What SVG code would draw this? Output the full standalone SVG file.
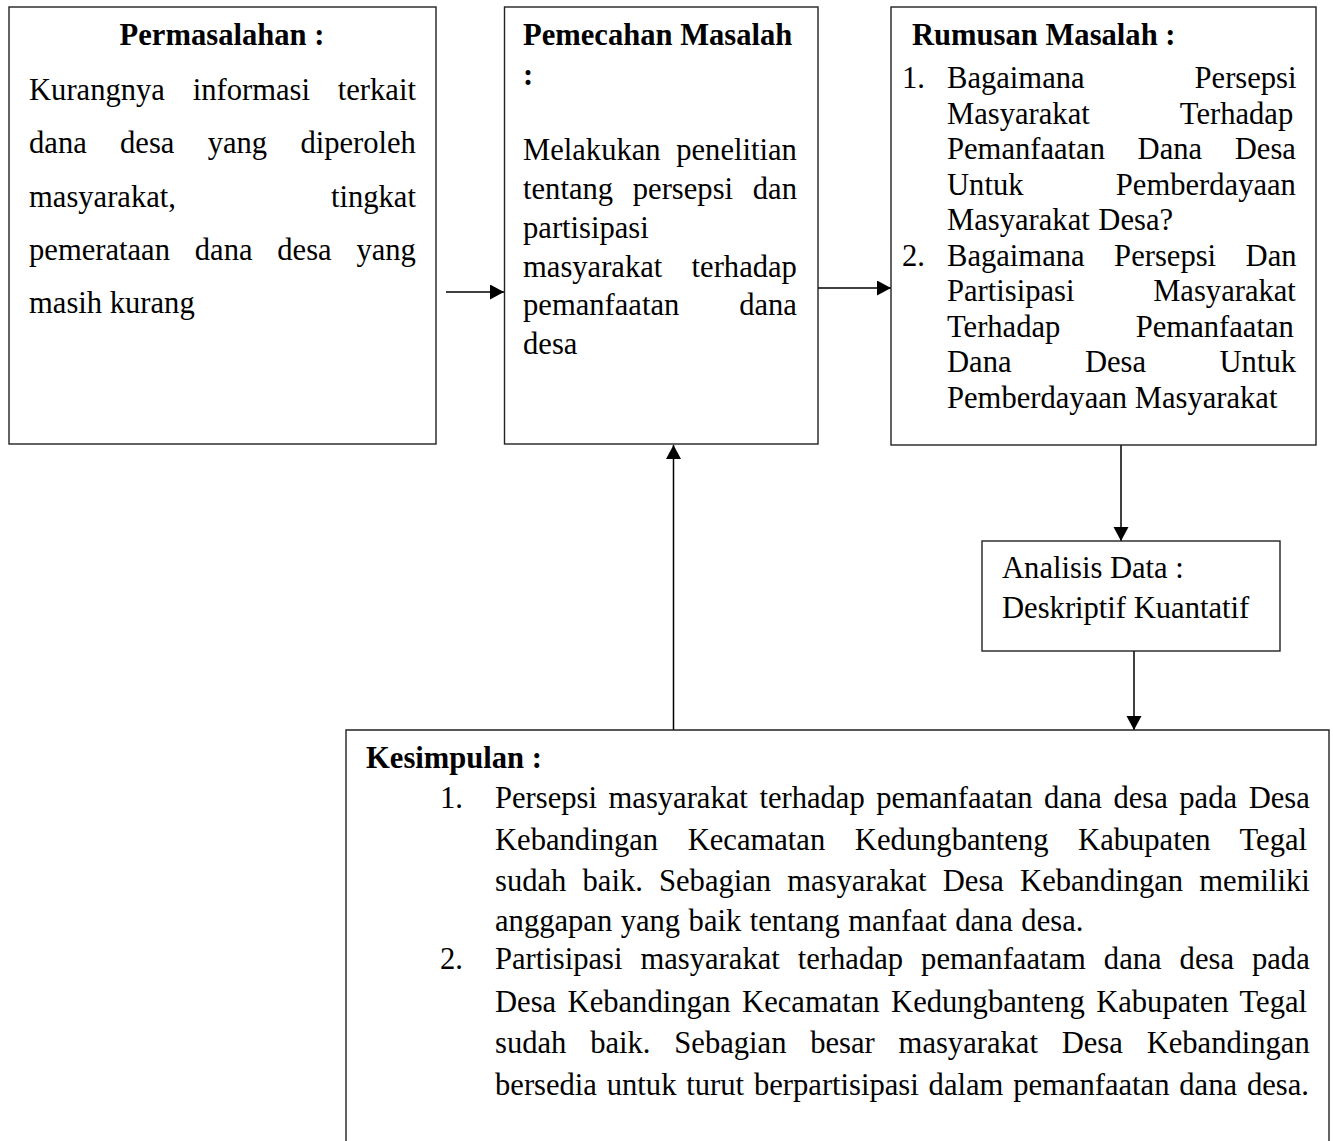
<svg xmlns="http://www.w3.org/2000/svg" width="1333" height="1141" viewBox="0 0 1333 1141">
<style>
.box{fill:#fff;stroke:#222;stroke-width:1.4}
.t{font-family:"Liberation Serif","Times New Roman",serif;font-size:30.6px;fill:#000}
.b{font-weight:bold}
.c{stroke:#000;stroke-width:1.5;fill:none}
</style>
<defs>
<marker id="ah" markerUnits="userSpaceOnUse" markerWidth="15" markerHeight="16" refX="14" refY="7.5" orient="auto">
<path d="M0,0 L14,7.5 L0,15 z" fill="#000"/>
</marker>
</defs>
<rect width="1333" height="1141" fill="#fff"/>
<g id="connectors">
<line class="c" x1="446" y1="292" x2="504" y2="292" marker-end="url(#ah)"/>
<line class="c" x1="818" y1="288" x2="891" y2="288" marker-end="url(#ah)"/>
<line class="c" x1="1121" y1="445" x2="1121" y2="541" stroke-width="2" marker-end="url(#ah)"/>
<line class="c" x1="1134" y1="651" x2="1134" y2="730" stroke="#555" stroke-width="1" marker-end="url(#ah)"/>
<line class="c" x1="673.5" y1="730" x2="673.5" y2="445" marker-end="url(#ah)"/>
</g>
<g id="permasalahan">
<rect class="box" x="9" y="7" width="427" height="437"/>
<text class="t b" x="222" y="45" text-anchor="middle">Permasalahan :</text>
<text class="t" x="29" y="99.5" word-spacing="20.14">Kurangnya informasi terkait</text>
<text class="t" x="29" y="153" word-spacing="25.62">dana desa yang diperoleh</text>
<text class="t" x="29" y="206.5" word-spacing="147.35">masyarakat, tingkat</text>
<text class="t" x="29" y="260" word-spacing="17.13">pemerataan dana desa yang</text>
<text class="t" x="29" y="313">masih kurang</text>
</g>
<g id="pemecahan">
<rect class="box" x="504.5" y="7" width="313.5" height="437"/>
<text class="t b" x="523" y="45">Pemecahan Masalah</text>
<text class="t b" x="523" y="85">:</text>
<text class="t" x="523" y="160" word-spacing="7.95">Melakukan penelitian</text>
<text class="t" x="523" y="199" word-spacing="12.09">tentang persepsi dan</text>
<text class="t" x="523" y="237.5">partisipasi</text>
<text class="t" x="523" y="276.5" word-spacing="21.65">masyarakat terhadap</text>
<text class="t" x="523" y="315" word-spacing="52.25">pemanfaatan dana</text>
<text class="t" x="523" y="354">desa</text>
</g>
<g id="rumusan">
<rect class="box" x="891" y="7" width="425" height="438"/>
<text class="t b" x="912" y="45">Rumusan Masalah :</text>
<text class="t" x="902" y="88">1.</text>
<text class="t" x="947" y="88" word-spacing="102.3">Bagaimana Persepsi</text>
<text class="t" x="947" y="123.5" word-spacing="83.05">Masyarakat Terhadap</text>
<text class="t" x="947" y="159" word-spacing="24.95">Pemanfaatan Dana Desa</text>
<text class="t" x="947" y="194.5" word-spacing="84.7">Untuk Pemberdayaan</text>
<text class="t" x="947" y="230" word-spacing="1">Masyarakat Desa?</text>
<text class="t" x="902" y="265.5">2.</text>
<text class="t" x="947" y="265.5" word-spacing="21.85">Bagaimana Persepsi Dan</text>
<text class="t" x="947" y="301" word-spacing="71.05">Partisipasi Masyarakat</text>
<text class="t" x="947" y="336.5" word-spacing="67.75">Terhadap Pemanfaatan</text>
<text class="t" x="947" y="372" word-spacing="65.75">Dana Desa Untuk</text>
<text class="t" x="947" y="407.5">Pemberdayaan Masyarakat</text>
</g>
<g id="analisis">
<rect class="box" x="982" y="541" width="298" height="110"/>
<text class="t" x="1002" y="578">Analisis Data :</text>
<text class="t" x="1002" y="618">Deskriptif Kuantatif</text>
</g>
<g id="kesimpulan">
<path class="box" d="M346,1150 V730 H1329 V1150"/>
<text class="t b" x="366" y="768">Kesimpulan :</text>
<text class="t" x="440" y="808">1.</text>
<text class="t" x="495" y="808" word-spacing="3.91">Persepsi masyarakat terhadap pemanfaatan dana desa pada Desa</text>
<text class="t" x="495" y="850" word-spacing="21.9">Kebandingan Kecamatan Kedungbanteng Kabupaten Tegal</text>
<text class="t" x="495" y="891" word-spacing="8.5">sudah baik. Sebagian masyarakat Desa Kebandingan memiliki</text>
<text class="t" x="495" y="931" word-spacing="0.8">anggapan yang baik tentang manfaat dana desa.</text>
<text class="t" x="440" y="969">2.</text>
<text class="t" x="495" y="969" word-spacing="10.35">Partisipasi masyarakat terhadap pemanfaatam dana desa pada</text>
<text class="t" x="495" y="1012" word-spacing="3.75">Desa Kebandingan Kecamatan Kedungbanteng Kabupaten Tegal</text>
<text class="t" x="495" y="1053" word-spacing="16.15">sudah baik. Sebagian besar masyarakat Desa Kebandingan</text>
<text class="t" x="495" y="1095" word-spacing="2.2">bersedia untuk turut berpartisipasi dalam pemanfaatan dana desa.</text>
</g>
</svg>
